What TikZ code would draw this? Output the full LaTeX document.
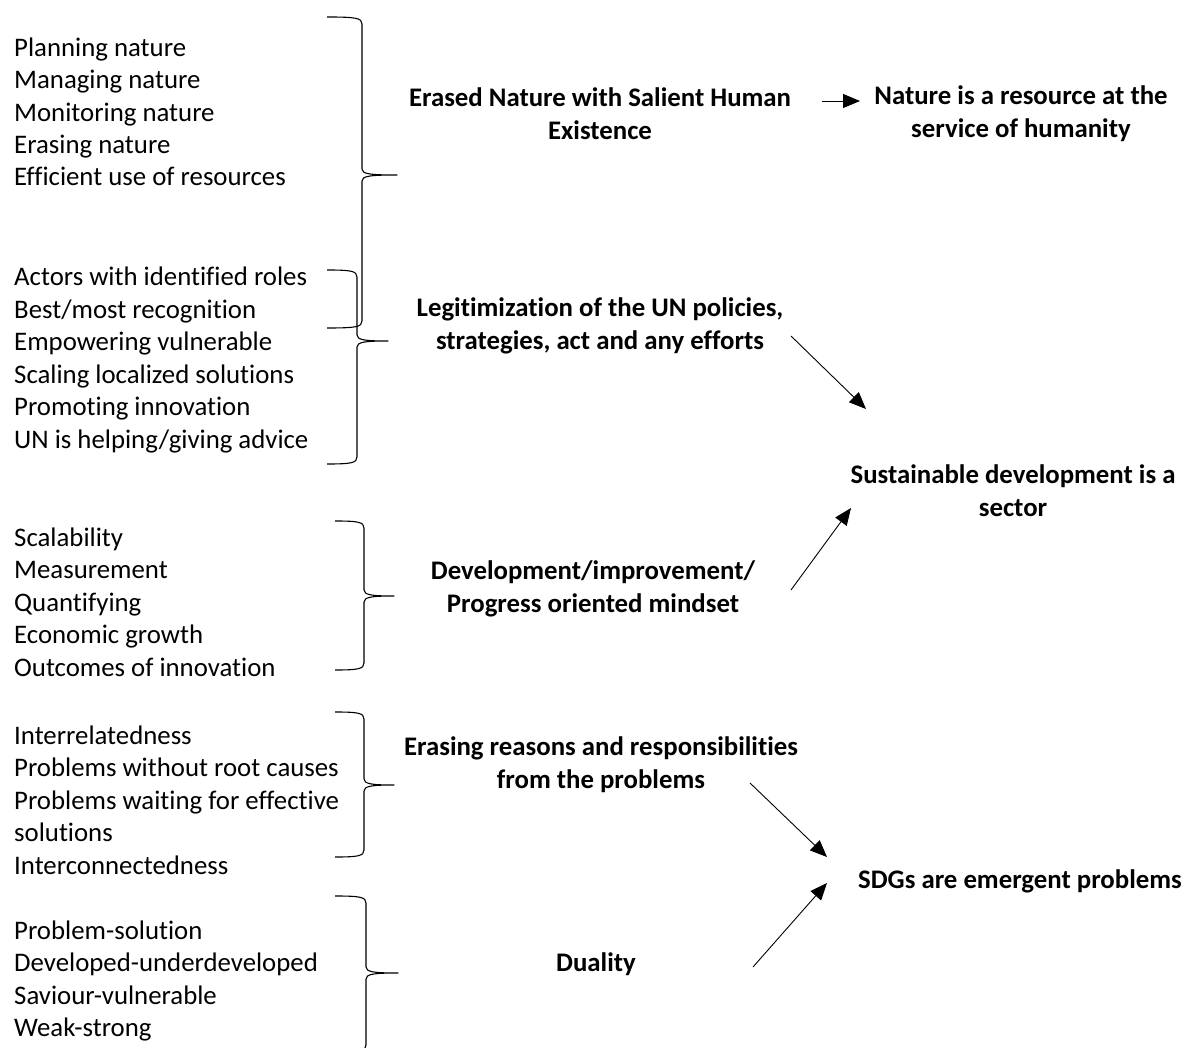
\documentclass[tikz,border=0pt]{standalone}
\usepackage{fontspec}
\setmainfont{Carlito}[Ligatures={NoCommon}]
\usetikzlibrary{arrows.meta}
\newcommand\cbrace[6]{% L, V, T, M, B, X
\draw[bracestyle] (#1,#3) .. controls ({#2-6},#3) and (#2,{#3+1}) .. (#2,{#3+7})
 -- (#2,{#4-6}) .. controls (#2,{#4-1}) and ({#2+8},#4) .. (#6,#4)
 .. controls ({#2+8},#4) and (#2,{#4+1}) .. (#2,{#4+6})
 -- (#2,{#5-7}) .. controls (#2,{#5-1}) and ({#2-6},#5) .. (#1,#5);}
\tikzset{
  item/.style={anchor=base west,inner sep=0pt,font=\fontsize{26.8}{32.5}\selectfont},
  lab/.style={align=center,inner sep=0pt,font=\fontsize{26.8}{32.8}\selectfont\bfseries},
  bracestyle/.style={line width=1.1pt,line join=round},
  arr/.style={line width=0.9pt,-{Triangle[length=17pt,width=14pt]}}
}
\begin{document}
\begin{tikzpicture}[x=1pt,y=-1pt]
\clip (0,0) rectangle (1186,1048);
\fill[white] (0,0) rectangle (1186,1048);
% left lists
\foreach \t [count=\i] in {Planning nature,Managing nature,Monitoring nature,Erasing nature,Efficient use of resources}
  \node[item] (ga\i) at (14,{56.7+32.3*(\i-1)}) {\t};
\foreach \t [count=\i] in {Actors with identified roles,Best/most recognition,Empowering vulnerable,Scaling localized solutions,Promoting innovation,UN is helping/giving advice}
  \node[item] (gb\i) at (14,{286+32.5*(\i-1)}) {\t};
\foreach \t [count=\i] in {Scalability,Measurement,Quantifying,Economic growth,Outcomes of innovation}
  \node[item] (gc\i) at (14,{546+32.5*(\i-1)}) {\t};
\foreach \t [count=\i] in {Interrelatedness,Problems without root causes,Problems waiting for effective,solutions,Interconnectedness}
  \node[item] (gd\i) at (14,{744+32.5*(\i-1)}) {\t};
\foreach \t [count=\i] in {Problem-solution,Developed-underdeveloped,Saviour-vulnerable,Weak-strong}
  \node[item] (ge\i) at (14,{939+32.6*(\i-1)}) {\t};
% braces
\cbrace{327}{362}{17}{175}{328}{397}
\cbrace{327}{357}{270}{341}{464}{388}
\cbrace{335}{364}{521}{596}{670}{394}
\cbrace{335}{364}{712}{785}{857}{394}
\cbrace{335}{366}{896}{973}{1052}{398}
% labels
\node[lab] (erased) at (600,114) {Erased Nature with Salient Human\\Existence};
\node[lab] (resource) at (1021,114) {Nature is a resource at the\\service of humanity};
\node[lab] (legit) at (600,326) {Legitimization of the UN policies,\\strategies, act and any efforts};
\node[lab] (sector) at (1013,491) {Sustainable development is a\\sector};
\node[lab] (devel) at (593,588.5) {Development/improvement/\\Progress oriented mindset};
\node[lab] (erasing) at (601,765) {Erasing reasons and responsibilities\\from the problems};
\node[lab] (sdgs) at (1020,881) {SDGs are emergent problems};
\node[lab] (duality) at (596,964) {Duality};
% arrow end points
\coordinate (a1s) at (822,101); \coordinate (a1e) at (860,101);
\coordinate (a2s) at (791,336); \coordinate (a2e) at (866,409);
\coordinate (a3s) at (791,590); \coordinate (a3e) at (851,508);
\coordinate (a4s) at (750,783); \coordinate (a4e) at (827,857);
\coordinate (a5s) at (753,967); \coordinate (a5e) at (827,883);
\draw[arr] (a1s) -- (a1e);
\draw[arr] (a2s) -- (a2e);
\draw[arr] (a3s) -- (a3e);
\draw[arr] (a4s) -- (a4e);
\draw[arr] (a5s) -- (a5e);
\end{tikzpicture}
\end{document}
